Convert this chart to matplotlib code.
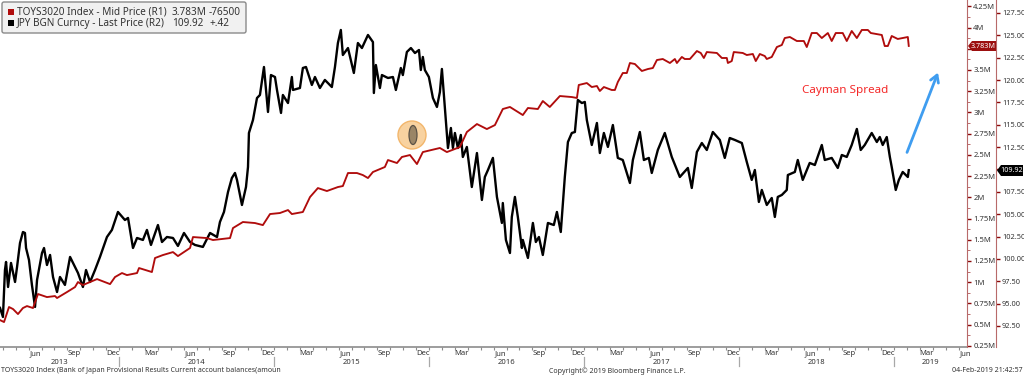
import numpy as np
import matplotlib
matplotlib.use('Agg')
import matplotlib.pyplot as plt
from matplotlib.patches import Ellipse, FancyBboxPatch, Polygon, Rectangle

# JPY BGN Curncy, decimal years and yen
jpy_time = [
    2013.232, 2013.251, 2013.264, 2013.271, 2013.284, 2013.303, 2013.329, 2013.342, 2013.361, 2013.380,
    2013.393, 2013.400, 2013.419, 2013.438, 2013.458, 2013.471, 2013.503, 2013.516, 2013.535, 2013.555,
    2013.574, 2013.600, 2013.619, 2013.651, 2013.684, 2013.716, 2013.735, 2013.767, 2013.787, 2013.813,
    2013.845, 2013.877, 2013.922, 2013.954, 2013.993, 2014.038, 2014.058, 2014.090, 2014.116, 2014.154,
    2014.180, 2014.206, 2014.251, 2014.277, 2014.309, 2014.348, 2014.380, 2014.419, 2014.458, 2014.490,
    2014.541, 2014.587, 2014.632, 2014.651, 2014.677, 2014.703, 2014.728, 2014.748, 2014.761, 2014.793,
    2014.819, 2014.832, 2014.838, 2014.864, 2014.890, 2014.909, 2014.935, 2014.961, 2014.980, 2015.006,
    2015.019, 2015.045, 2015.057, 2015.090, 2015.115, 2015.122, 2015.167, 2015.186, 2015.206, 2015.244,
    2015.264, 2015.296, 2015.328, 2015.373, 2015.393, 2015.412, 2015.431, 2015.444, 2015.477, 2015.515,
    2015.541, 2015.567, 2015.606, 2015.638, 2015.644, 2015.657, 2015.683, 2015.696, 2015.735, 2015.767,
    2015.786, 2015.818, 2015.831, 2015.857, 2015.883, 2015.909, 2015.935, 2015.947, 2015.960, 2015.973,
    2015.999, 2016.025, 2016.051, 2016.070, 2016.083, 2016.102, 2016.122, 2016.141, 2016.154, 2016.167,
    2016.186, 2016.205, 2016.218, 2016.244, 2016.276, 2016.309, 2016.341, 2016.360, 2016.380, 2016.412,
    2016.438, 2016.470, 2016.476, 2016.496, 2016.522, 2016.534, 2016.554, 2016.573, 2016.599, 2016.605,
    2016.638, 2016.670, 2016.689, 2016.709, 2016.734, 2016.767, 2016.805, 2016.825, 2016.850, 2016.876,
    2016.896, 2016.921, 2016.941, 2016.960, 2016.986, 2017.005, 2017.018, 2017.050, 2017.083, 2017.102,
    2017.128, 2017.154, 2017.186, 2017.218, 2017.250, 2017.296, 2017.315, 2017.360, 2017.386, 2017.418,
    2017.437, 2017.476, 2017.521, 2017.566, 2017.605, 2017.618, 2017.670, 2017.695, 2017.728, 2017.760,
    2017.792, 2017.831, 2017.876, 2017.908, 2017.940, 2017.973, 2018.018, 2018.050, 2018.082, 2018.102,
    2018.128, 2018.147, 2018.179, 2018.211, 2018.231, 2018.250, 2018.276, 2018.308, 2018.315, 2018.360,
    2018.379, 2018.411, 2018.456, 2018.489, 2018.534, 2018.553, 2018.598, 2018.637, 2018.663, 2018.695,
    2018.727, 2018.760, 2018.785, 2018.811, 2018.856, 2018.889, 2018.908, 2018.927, 2018.953, 2018.973,
    2018.985, 2019.011, 2019.031, 2019.056, 2019.089, 2019.095]
jpy_price = [
    94.52, 93.51, 98.76, 99.66, 96.86, 99.55, 97.42, 99.10, 101.78, 103.01,
    102.90, 101.22, 99.88, 97.09, 94.63, 97.65, 100.66, 101.22, 99.32, 100.44,
    97.98, 96.30, 97.98, 97.09, 100.22, 99.10, 98.43, 96.86, 98.76, 97.42,
    98.76, 100.22, 102.45, 103.24, 105.25, 104.35, 104.58, 101.22, 102.34, 102.12,
    103.24, 101.56, 103.79, 101.89, 102.45, 102.34, 101.45, 102.90, 101.89, 101.56,
    101.34, 102.90, 102.45, 104.13, 105.25, 107.48, 109.05, 109.61, 108.83, 106.03,
    108.04, 110.28, 114.08, 115.53, 117.99, 118.33, 121.46, 116.43, 120.56, 120.34,
    118.89, 116.32, 118.33, 117.43, 120.34, 118.89, 119.11, 121.35, 121.46, 119.45,
    120.34, 119.11, 120.01, 119.22, 121.46, 124.14, 125.60, 122.80, 123.58, 120.79,
    124.14, 123.58, 125.04, 124.25, 118.55, 121.68, 119.11, 120.56, 120.23, 120.34,
    118.89, 121.35, 120.56, 123.14, 123.58, 123.02, 123.36, 121.12, 122.58, 121.12,
    120.34, 117.99, 116.99, 118.66, 121.24, 116.88, 112.40, 114.64, 112.40, 114.08,
    112.40, 113.86, 111.40, 112.52, 108.04, 111.84, 106.59, 109.16, 109.94, 111.29,
    106.93, 104.02, 106.25, 102.12, 100.66, 104.69, 106.93, 104.69, 101.22, 102.12,
    100.11, 104.02, 101.89, 102.45, 100.44, 104.02, 103.79, 105.25, 103.01, 109.16,
    113.07, 114.08, 114.19, 117.77, 117.43, 117.55, 115.53, 112.74, 115.20, 111.84,
    114.08, 112.52, 114.97, 111.29, 111.06, 108.49, 111.06, 114.19, 111.06, 111.29,
    109.61, 112.18, 114.08, 111.40, 109.72, 109.16, 110.17, 107.93, 111.96, 112.96,
    112.18, 114.19, 113.30, 111.29, 113.52, 113.30, 112.96, 110.84, 108.83, 109.94,
    106.37, 107.71, 106.03, 106.81, 104.69, 106.93, 107.15, 107.71, 109.38, 109.72,
    111.06, 108.83, 110.73, 110.50, 112.74, 111.06, 111.29, 110.17, 111.62, 111.40,
    112.74, 114.53, 112.18, 112.74, 114.08, 113.07, 113.63, 112.74, 113.63, 111.40,
    110.28, 107.71, 108.83, 109.72, 109.16, 109.92]

# TOYS3020 Index, decimal years and millions
toys_time = [
    2013.232, 2013.258, 2013.290, 2013.316, 2013.348, 2013.380, 2013.406, 2013.445, 2013.477, 2013.535,
    2013.587, 2013.600, 2013.664, 2013.716, 2013.735, 2013.767, 2013.858, 2013.942, 2013.974, 2014.019,
    2014.051, 2014.116, 2014.129, 2014.212, 2014.232, 2014.283, 2014.348, 2014.380, 2014.458, 2014.477,
    2014.567, 2014.606, 2014.716, 2014.735, 2014.799, 2014.877, 2014.928, 2014.974, 2015.038, 2015.090,
    2015.115, 2015.186, 2015.232, 2015.283, 2015.341, 2015.412, 2015.444, 2015.477, 2015.535, 2015.573,
    2015.606, 2015.638, 2015.715, 2015.735, 2015.793, 2015.825, 2015.877, 2015.922, 2015.960, 2016.070,
    2016.115, 2016.199, 2016.244, 2016.309, 2016.373, 2016.425, 2016.476, 2016.522, 2016.605, 2016.638,
    2016.702, 2016.734, 2016.779, 2016.844, 2016.921, 2016.954, 2016.966, 2017.018, 2017.050, 2017.083,
    2017.102, 2017.128, 2017.179, 2017.199, 2017.218, 2017.250, 2017.276, 2017.296, 2017.328, 2017.373,
    2017.412, 2017.444, 2017.470, 2017.508, 2017.554, 2017.586, 2017.599, 2017.631, 2017.650, 2017.683,
    2017.728, 2017.753, 2017.773, 2017.792, 2017.857, 2017.889, 2017.921, 2017.928, 2017.953, 2017.966,
    2018.024, 2018.050, 2018.089, 2018.108, 2018.134, 2018.166, 2018.179, 2018.211, 2018.244, 2018.276,
    2018.295, 2018.328, 2018.373, 2018.418, 2018.437, 2018.469, 2018.502, 2018.534, 2018.573, 2018.598,
    2018.624, 2018.669, 2018.695, 2018.727, 2018.760, 2018.792, 2018.831, 2018.850, 2018.921, 2018.940,
    2018.960, 2018.985, 2019.024, 2019.089, 2019.095]
toys_price = [
    0.554, 0.531, 0.708, 0.684, 0.625, 0.696, 0.719, 0.696, 0.861, 0.825,
    0.837, 0.814, 0.884, 0.943, 1.002, 0.967, 1.037, 0.978, 1.061, 1.108,
    1.084, 1.108, 1.167, 1.120, 1.285, 1.320, 1.355, 1.308, 1.403, 1.532,
    1.520, 1.497, 1.520, 1.638, 1.709, 1.697, 1.673, 1.803, 1.815, 1.850,
    1.803, 1.827, 2.003, 2.109, 2.074, 2.121, 2.133, 2.286, 2.286, 2.262,
    2.227, 2.298, 2.357, 2.439, 2.404, 2.475, 2.498, 2.392, 2.533, 2.581,
    2.533, 2.592, 2.769, 2.863, 2.804, 2.851, 3.040, 3.064, 2.969, 3.052,
    3.040, 3.134, 3.064, 3.193, 3.181, 3.170, 3.323, 3.346, 3.299, 3.311,
    3.252, 3.299, 3.264, 3.264, 3.358, 3.464, 3.464, 3.582, 3.570, 3.488,
    3.511, 3.523, 3.617, 3.629, 3.582, 3.629, 3.582, 3.653, 3.629, 3.629,
    3.723, 3.700, 3.641, 3.711, 3.700, 3.641, 3.641, 3.582, 3.605, 3.711,
    3.700, 3.676, 3.688, 3.605, 3.688, 3.664, 3.629, 3.653, 3.770, 3.794,
    3.876, 3.888, 3.841, 3.841, 3.770, 3.935, 3.935, 3.876, 3.935, 3.841,
    3.935, 3.935, 3.841, 3.959, 3.876, 3.971, 3.971, 3.935, 3.912, 3.782,
    3.782, 3.900, 3.865, 3.888, 3.783]

r1_ticks = [0.25, 0.5, 0.75, 1, 1.25, 1.5, 1.75, 2, 2.25, 2.5, 2.75, 3, 3.25, 3.5, 3.75, 4, 4.25]
r1_labels = ['0.25M', '0.5M', '0.75M', '1M', '1.25M', '1.5M', '1.75M', '2M', '2.25M', '2.5M',
             '2.75M', '3M', '3.25M', '3.5M', '3.75M', '4M', '4.25M']
r2_ticks = [92.5, 95, 97.5, 100, 102.5, 105, 107.5, 110, 112.5, 115, 117.5, 120, 122.5, 125, 127.5]
r2_labels = ['92.50', '95.00', '97.50', '100.00', '102.50', '105.00', '107.50', '',
             '112.50', '115.00', '117.50', '120.00', '122.50', '125.00', '127.50']
month_names = {3: 'Mar', 6: 'Jun', 9: 'Sep', 12: 'Dec'}
years = [2013, 2014, 2015, 2016, 2017, 2018, 2019]

plt.rcParams['font.family'] = ['Noto Sans', 'DejaVu Sans']
text_col = '#333333'
red = '#b00c0c'
axis_red = '#b86a6a'
small = 5.5
foot = 5.05

fig = plt.figure(figsize=(10.24, 3.76), dpi=100)
ax2 = fig.add_axes([0, 29 / 376, 967 / 1024, 347 / 376])
ax1 = ax2.twinx()

x_left = 2013.232
x_right = x_left + 967 / 155
ax2.set_xlim(x_left, x_right)
ax2.set_ylim(90.15, 128.95)
ax1.set_ylim(0.237, 4.324)

ax2.plot(jpy_time, jpy_price, color='black', lw=1.7, solid_joinstyle='round')
ax1.plot(toys_time, toys_price, color=red, lw=1.35, solid_joinstyle='round')

for a in [ax1, ax2]:
    a.spines['top'].set_visible(False)
    a.spines['left'].set_visible(False)
ax1.spines['bottom'].set_visible(False)
ax2.spines['bottom'].set_color('#8c8c8c')
ax2.spines['bottom'].set_linewidth(1.2)

# right axes
ax1.spines['right'].set_color(axis_red)
ax1.set_yticks(r1_ticks, r1_labels)
ax1.set_yticks(np.array(r1_ticks[:-1]) + 0.125, minor=True)
ax1.tick_params(axis='y', which='major', length=3, width=1, color='#8b0a0a', pad=1.5,
                labelsize=small, labelcolor=text_col)
ax1.tick_params(axis='y', which='minor', length=2, width=0.7, color=axis_red)

ax2.yaxis.tick_right()
ax2.spines['right'].set_position(('outward', 20.9))
ax2.spines['right'].set_color(axis_red)
ax2.set_yticks(r2_ticks, r2_labels)
ax2.tick_params(axis='y', length=3, width=1, color='#8b0a0a', pad=1.2,
                labelsize=5.3, labelcolor=text_col)

# time axis
month_starts = []
quarter_pos = []
quarter_lab = []
for y in range(2013, 2020):
    for m in range(1, 13):
        start = y + (m - 1) / 12
        if x_left <= start <= x_right:
            month_starts.append(start)
        mid = start + 1 / 24
        if m in month_names and x_left <= mid <= x_right:
            quarter_pos.append(mid)
            quarter_lab.append(month_names[m])
ax2.set_xticks(month_starts, [''] * len(month_starts))
ax2.tick_params(axis='x', which='major', length=2, width=0.8, color='#8c8c8c')
ax2.set_xticks(quarter_pos, quarter_lab, minor=True)
ax2.tick_params(axis='x', which='minor', length=0, pad=2.2, labelsize=small, labelcolor=text_col)

trans = ax2.get_xaxis_transform()
for y in years:
    lo = max(y, x_left)
    hi = min(y + 1, x_right)
    ax2.text((lo + hi) / 2, -15.5 / 347, str(y), transform=trans, ha='center', va='center',
             fontsize=small, color=text_col)
    if y > 2013:
        ax2.plot([y, y], [-10 / 347, -19 / 347], transform=trans, color='#a8a8a8', lw=0.9, clip_on=False)

# overlay in pixel units for the annotations
ov = fig.add_axes([0, 0, 1, 1], facecolor='none')
ov.set_xlim(0, 1024)
ov.set_ylim(376, 0)
ov.axis('off')

ov.add_patch(FancyBboxPatch((2, 2), 244, 31, boxstyle='round,pad=0,rounding_size=2',
                            fc='#f1f1f1', ec='#8a8a8a', lw=1))
ov.add_patch(Rectangle((8, 9), 6, 6, fc=red, ec='none'))
ov.add_patch(Rectangle((8, 20), 6, 6, fc='black', ec='none'))
ov.text(17, 12.5, 'TOYS3020 Index - Mid Price (R1)', fontsize=7.2, color='#333333', va='center')
ov.text(172, 12.5, '3.783M', fontsize=7.2, color='#333333', va='center')
ov.text(209, 12.5, '-76500', fontsize=7.2, color='#333333', va='center')
ov.text(17, 23.5, 'JPY BGN Curncy - Last Price (R2)', fontsize=7.2, color='#333333', va='center')
ov.text(172, 23.5, '109.92', fontsize=7.2, color='#333333', va='center')
ov.text(209, 23.5, '+.42', fontsize=7.2, color='#333333', va='center')

# last value tags
ov.add_patch(Polygon([(968, 46), (972, 41), (996, 41), (996, 51), (972, 51)], fc='#9c0f0f', ec='none'))
ov.text(983, 46, '3.783M', fontsize=5.2, color='white', ha='center', va='center')
ov.add_patch(Polygon([(997, 170.5), (1001, 165), (1023, 165), (1023, 176), (1001, 176)], fc='black', ec='none'))
ov.text(1011.5, 170.5, '109.92', fontsize=5.2, color='white', ha='center', va='center')

# drawn on the chart
ov.text(845, 90, 'Cayman Spread', fontsize=8.4, color='#f42a2a', ha='center', va='center')
ov.annotate('', xy=(939, 70), xytext=(906, 155),
            arrowprops=dict(arrowstyle='->,head_length=0.5,head_width=0.3', color='#3f9df0', lw=2))
ov.add_patch(Ellipse((412, 135), 28, 28, fc='#f8d2a0', ec='#f2b66c', lw=1))
ov.add_patch(Ellipse((413, 135), 8, 19, fc='#9a8566', ec='#5c5347', lw=0.9))

# footer
ov.text(1, 371, 'TOYS3020 Index (Bank of Japan Provisional Results Current account balances(amoun',
        fontsize=foot, color=text_col, va='center')
ov.text(549, 371, 'Copyright\u00a9 2019 Bloomberg Finance L.P.', fontsize=foot, color=text_col, va='center')
ov.text(1023, 371, '04-Feb-2019 21:42:57', fontsize=foot, color=text_col, va='center', ha='right')

plt.savefig('out.png', dpi=100)
